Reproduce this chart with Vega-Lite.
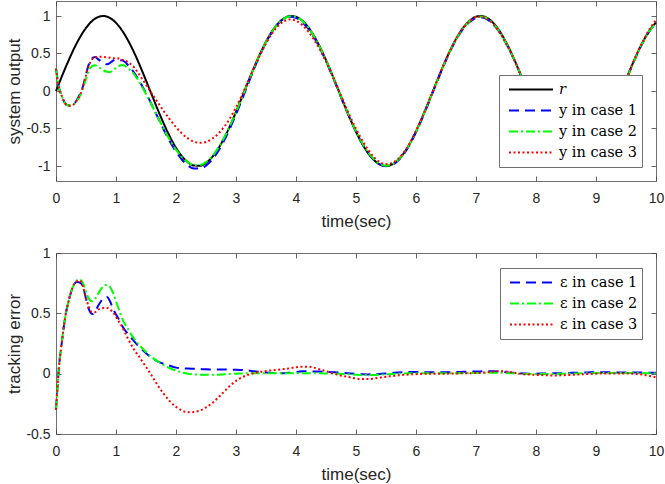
{
  "$schema": "https://vega.github.io/schema/vega-lite/v6.json",
  "background": "white",
  "padding": {"left": 5, "top": 0, "right": 0, "bottom": 0},
  "config": {
    "view": {"stroke": "#707070", "strokeWidth": 1},
    "axis": {
      "grid": false, "domain": false,
      "labelFont": "Liberation Sans", "labelFontSize": 14, "labelColor": "#262626",
      "titleFont": "Liberation Sans", "titleFontSize": 17, "titleFontWeight": "normal", "titleColor": "#262626",
      "tickColor": "#404040", "tickSize": -5, "tickWidth": 0.8,
      "labelFlush": false, "labelOverlap": false, "labelBound": false
    },
    "legend": {
      "orient": "none", "fillColor": "white", "strokeColor": "#707070", "padding": 4,
      "clipHeight": 21, "rowPadding": 0, "symbolType": "stroke", "symbolSize": 1936,
      "symbolStrokeWidth": 2, "labelFont": "DejaVu Serif", "labelFontSize": 14.5,
      "labelColor": "#000000", "labelOffset": 5, "symbolOffset": 5, "title": null
    }
  },
  "data": {
    "values": [
      {"t": 0, "r": 0, "y1": 0.3, "y2": 0.3, "y3": 0.3, "e1": -0.3, "e2": -0.3, "e3": -0.3},
      {"t": 0.05, "r": 0.1, "y1": 0.04, "y2": 0.04, "y3": 0.04, "e1": 0.06, "e2": 0.06, "e3": 0.06},
      {"t": 0.1, "r": 0.199, "y1": -0.071, "y2": -0.071, "y3": -0.071, "e1": 0.27, "e2": 0.27, "e3": 0.27},
      {"t": 0.15, "r": 0.296, "y1": -0.164, "y2": -0.164, "y3": -0.164, "e1": 0.46, "e2": 0.46, "e3": 0.46},
      {"t": 0.2, "r": 0.389, "y1": -0.191, "y2": -0.191, "y3": -0.191, "e1": 0.58, "e2": 0.58, "e3": 0.58},
      {"t": 0.25, "r": 0.479, "y1": -0.196, "y2": -0.196, "y3": -0.196, "e1": 0.675, "e2": 0.675, "e3": 0.675},
      {"t": 0.3, "r": 0.565, "y1": -0.175, "y2": -0.175, "y3": -0.175, "e1": 0.74, "e2": 0.74, "e3": 0.74},
      {"t": 0.35, "r": 0.644, "y1": -0.116, "y2": -0.131, "y3": -0.121, "e1": 0.76, "e2": 0.775, "e3": 0.765},
      {"t": 0.4, "r": 0.717, "y1": -0.038, "y2": -0.063, "y3": -0.053, "e1": 0.755, "e2": 0.78, "e3": 0.77},
      {"t": 0.45, "r": 0.783, "y1": 0.063, "y2": 0.033, "y3": 0.063, "e1": 0.72, "e2": 0.75, "e3": 0.72},
      {"t": 0.5, "r": 0.841, "y1": 0.221, "y2": 0.161, "y3": 0.211, "e1": 0.62, "e2": 0.68, "e3": 0.63},
      {"t": 0.55, "r": 0.891, "y1": 0.361, "y2": 0.271, "y3": 0.341, "e1": 0.53, "e2": 0.62, "e3": 0.55},
      {"t": 0.6, "r": 0.932, "y1": 0.437, "y2": 0.332, "y3": 0.422, "e1": 0.495, "e2": 0.6, "e3": 0.51},
      {"t": 0.65, "r": 0.964, "y1": 0.454, "y2": 0.344, "y3": 0.454, "e1": 0.51, "e2": 0.62, "e3": 0.51},
      {"t": 0.7, "r": 0.985, "y1": 0.425, "y2": 0.325, "y3": 0.455, "e1": 0.56, "e2": 0.66, "e3": 0.53},
      {"t": 0.75, "r": 0.997, "y1": 0.397, "y2": 0.297, "y3": 0.457, "e1": 0.6, "e2": 0.7, "e3": 0.54},
      {"t": 0.8, "r": 1.0, "y1": 0.37, "y2": 0.27, "y3": 0.455, "e1": 0.63, "e2": 0.73, "e3": 0.545},
      {"t": 0.85, "r": 0.992, "y1": 0.357, "y2": 0.257, "y3": 0.447, "e1": 0.635, "e2": 0.735, "e3": 0.545},
      {"t": 0.9, "r": 0.974, "y1": 0.374, "y2": 0.254, "y3": 0.444, "e1": 0.6, "e2": 0.72, "e3": 0.53},
      {"t": 0.95, "r": 0.946, "y1": 0.406, "y2": 0.276, "y3": 0.436, "e1": 0.54, "e2": 0.67, "e3": 0.51},
      {"t": 1.0, "r": 0.909, "y1": 0.419, "y2": 0.309, "y3": 0.439, "e1": 0.49, "e2": 0.6, "e3": 0.47},
      {"t": 1.05, "r": 0.863, "y1": 0.413, "y2": 0.333, "y3": 0.433, "e1": 0.45, "e2": 0.53, "e3": 0.43},
      {"t": 1.1, "r": 0.808, "y1": 0.408, "y2": 0.348, "y3": 0.418, "e1": 0.4, "e2": 0.46, "e3": 0.39},
      {"t": 1.15, "r": 0.746, "y1": 0.386, "y2": 0.336, "y3": 0.406, "e1": 0.36, "e2": 0.41, "e3": 0.34},
      {"t": 1.2, "r": 0.675, "y1": 0.345, "y2": 0.305, "y3": 0.385, "e1": 0.33, "e2": 0.37, "e3": 0.29},
      {"t": 1.3, "r": 0.516, "y1": 0.246, "y2": 0.226, "y3": 0.316, "e1": 0.27, "e2": 0.29, "e3": 0.2},
      {"t": 1.4, "r": 0.335, "y1": 0.12, "y2": 0.105, "y3": 0.205, "e1": 0.215, "e2": 0.23, "e3": 0.13},
      {"t": 1.5, "r": 0.141, "y1": -0.029, "y2": -0.039, "y3": 0.086, "e1": 0.17, "e2": 0.18, "e3": 0.055},
      {"t": 1.6, "r": -0.058, "y1": -0.188, "y2": -0.193, "y3": -0.038, "e1": 0.13, "e2": 0.135, "e3": -0.02},
      {"t": 1.7, "r": -0.256, "y1": -0.356, "y2": -0.356, "y3": -0.156, "e1": 0.1, "e2": 0.1, "e3": -0.1},
      {"t": 1.8, "r": -0.443, "y1": -0.523, "y2": -0.513, "y3": -0.273, "e1": 0.08, "e2": 0.07, "e3": -0.17},
      {"t": 1.9, "r": -0.612, "y1": -0.677, "y2": -0.657, "y3": -0.382, "e1": 0.065, "e2": 0.045, "e3": -0.23},
      {"t": 2.0, "r": -0.757, "y1": -0.807, "y2": -0.782, "y3": -0.482, "e1": 0.05, "e2": 0.025, "e3": -0.275},
      {"t": 2.1, "r": -0.872, "y1": -0.917, "y2": -0.882, "y3": -0.567, "e1": 0.045, "e2": 0.01, "e3": -0.305},
      {"t": 2.2, "r": -0.952, "y1": -0.994, "y2": -0.952, "y3": -0.632, "e1": 0.042, "e2": 0.0, "e3": -0.32},
      {"t": 2.3, "r": -0.994, "y1": -1.034, "y2": -0.988, "y3": -0.676, "e1": 0.04, "e2": -0.006, "e3": -0.318},
      {"t": 2.4, "r": -0.996, "y1": -1.034, "y2": -0.987, "y3": -0.691, "e1": 0.038, "e2": -0.009, "e3": -0.305},
      {"t": 2.5, "r": -0.959, "y1": -0.995, "y2": -0.949, "y3": -0.679, "e1": 0.036, "e2": -0.01, "e3": -0.28},
      {"t": 2.6, "r": -0.883, "y1": -0.918, "y2": -0.873, "y3": -0.638, "e1": 0.035, "e2": -0.01, "e3": -0.245},
      {"t": 2.7, "r": -0.773, "y1": -0.807, "y2": -0.765, "y3": -0.573, "e1": 0.034, "e2": -0.008, "e3": -0.2},
      {"t": 2.8, "r": -0.631, "y1": -0.665, "y2": -0.626, "y3": -0.481, "e1": 0.034, "e2": -0.005, "e3": -0.15},
      {"t": 2.9, "r": -0.465, "y1": -0.498, "y2": -0.463, "y3": -0.365, "e1": 0.033, "e2": -0.002, "e3": -0.1},
      {"t": 3.0, "r": -0.279, "y1": -0.312, "y2": -0.279, "y3": -0.219, "e1": 0.033, "e2": 0.0, "e3": -0.06},
      {"t": 3.1, "r": -0.083, "y1": -0.113, "y2": -0.085, "y3": -0.053, "e1": 0.03, "e2": 0.002, "e3": -0.03},
      {"t": 3.2, "r": 0.117, "y1": 0.091, "y2": 0.114, "y3": 0.127, "e1": 0.026, "e2": 0.003, "e3": -0.01},
      {"t": 3.3, "r": 0.312, "y1": 0.292, "y2": 0.309, "y3": 0.307, "e1": 0.02, "e2": 0.003, "e3": 0.005},
      {"t": 3.4, "r": 0.494, "y1": 0.479, "y2": 0.491, "y3": 0.479, "e1": 0.015, "e2": 0.003, "e3": 0.015},
      {"t": 3.5, "r": 0.657, "y1": 0.647, "y2": 0.654, "y3": 0.635, "e1": 0.01, "e2": 0.003, "e3": 0.022},
      {"t": 3.6, "r": 0.794, "y1": 0.788, "y2": 0.791, "y3": 0.766, "e1": 0.006, "e2": 0.003, "e3": 0.028},
      {"t": 3.7, "r": 0.899, "y1": 0.895, "y2": 0.896, "y3": 0.866, "e1": 0.004, "e2": 0.003, "e3": 0.033},
      {"t": 3.8, "r": 0.968, "y1": 0.964, "y2": 0.965, "y3": 0.93, "e1": 0.004, "e2": 0.003, "e3": 0.038},
      {"t": 3.9, "r": 0.999, "y1": 0.991, "y2": 0.996, "y3": 0.954, "e1": 0.008, "e2": 0.003, "e3": 0.045},
      {"t": 4.0, "r": 0.989, "y1": 0.975, "y2": 0.986, "y3": 0.936, "e1": 0.014, "e2": 0.003, "e3": 0.053},
      {"t": 4.1, "r": 0.941, "y1": 0.921, "y2": 0.938, "y3": 0.883, "e1": 0.02, "e2": 0.003, "e3": 0.058},
      {"t": 4.2, "r": 0.855, "y1": 0.835, "y2": 0.852, "y3": 0.797, "e1": 0.02, "e2": 0.003, "e3": 0.058},
      {"t": 4.3, "r": 0.734, "y1": 0.716, "y2": 0.731, "y3": 0.684, "e1": 0.018, "e2": 0.003, "e3": 0.05},
      {"t": 4.4, "r": 0.585, "y1": 0.568, "y2": 0.582, "y3": 0.55, "e1": 0.017, "e2": 0.003, "e3": 0.035},
      {"t": 4.5, "r": 0.412, "y1": 0.397, "y2": 0.41, "y3": 0.392, "e1": 0.015, "e2": 0.002, "e3": 0.02},
      {"t": 4.6, "r": 0.223, "y1": 0.211, "y2": 0.222, "y3": 0.218, "e1": 0.012, "e2": 0.001, "e3": 0.005},
      {"t": 4.7, "r": 0.025, "y1": 0.015, "y2": 0.025, "y3": 0.035, "e1": 0.01, "e2": 0.0, "e3": -0.01},
      {"t": 4.8, "r": -0.175, "y1": -0.181, "y2": -0.173, "y3": -0.155, "e1": 0.006, "e2": -0.002, "e3": -0.02},
      {"t": 4.9, "r": -0.367, "y1": -0.369, "y2": -0.362, "y3": -0.337, "e1": 0.002, "e2": -0.005, "e3": -0.03},
      {"t": 5.0, "r": -0.544, "y1": -0.542, "y2": -0.536, "y3": -0.504, "e1": -0.002, "e2": -0.008, "e3": -0.04},
      {"t": 5.1, "r": -0.699, "y1": -0.694, "y2": -0.688, "y3": -0.654, "e1": -0.005, "e2": -0.011, "e3": -0.045},
      {"t": 5.2, "r": -0.827, "y1": -0.821, "y2": -0.815, "y3": -0.782, "e1": -0.006, "e2": -0.012, "e3": -0.045},
      {"t": 5.3, "r": -0.922, "y1": -0.917, "y2": -0.911, "y3": -0.882, "e1": -0.005, "e2": -0.011, "e3": -0.04},
      {"t": 5.4, "r": -0.981, "y1": -0.979, "y2": -0.973, "y3": -0.948, "e1": -0.002, "e2": -0.008, "e3": -0.033},
      {"t": 5.5, "r": -1.0, "y1": -1.002, "y2": -0.995, "y3": -0.975, "e1": 0.002, "e2": -0.005, "e3": -0.025},
      {"t": 5.6, "r": -0.98, "y1": -0.986, "y2": -0.978, "y3": -0.96, "e1": 0.006, "e2": -0.002, "e3": -0.02},
      {"t": 5.7, "r": -0.921, "y1": -0.931, "y2": -0.921, "y3": -0.907, "e1": 0.01, "e2": 0.0, "e3": -0.014},
      {"t": 5.8, "r": -0.825, "y1": -0.837, "y2": -0.827, "y3": -0.815, "e1": 0.012, "e2": 0.002, "e3": -0.01},
      {"t": 5.9, "r": -0.697, "y1": -0.71, "y2": -0.7, "y3": -0.691, "e1": 0.013, "e2": 0.003, "e3": -0.006},
      {"t": 6.0, "r": -0.537, "y1": -0.55, "y2": -0.54, "y3": -0.533, "e1": 0.013, "e2": 0.003, "e3": -0.004},
      {"t": 6.1, "r": -0.358, "y1": -0.371, "y2": -0.361, "y3": -0.356, "e1": 0.013, "e2": 0.003, "e3": -0.002},
      {"t": 6.2, "r": -0.166, "y1": -0.178, "y2": -0.169, "y3": -0.165, "e1": 0.012, "e2": 0.003, "e3": -0.001},
      {"t": 6.3, "r": 0.033, "y1": 0.021, "y2": 0.03, "y3": 0.033, "e1": 0.012, "e2": 0.003, "e3": 0.0},
      {"t": 6.4, "r": 0.231, "y1": 0.219, "y2": 0.228, "y3": 0.231, "e1": 0.012, "e2": 0.003, "e3": 0.0},
      {"t": 6.5, "r": 0.42, "y1": 0.408, "y2": 0.416, "y3": 0.42, "e1": 0.012, "e2": 0.004, "e3": 0.0},
      {"t": 6.6, "r": 0.592, "y1": 0.579, "y2": 0.588, "y3": 0.591, "e1": 0.013, "e2": 0.004, "e3": 0.001},
      {"t": 6.7, "r": 0.74, "y1": 0.726, "y2": 0.736, "y3": 0.738, "e1": 0.014, "e2": 0.004, "e3": 0.002},
      {"t": 6.8, "r": 0.857, "y1": 0.842, "y2": 0.852, "y3": 0.854, "e1": 0.015, "e2": 0.005, "e3": 0.003},
      {"t": 6.9, "r": 0.939, "y1": 0.923, "y2": 0.934, "y3": 0.935, "e1": 0.016, "e2": 0.005, "e3": 0.004},
      {"t": 7.0, "r": 0.991, "y1": 0.973, "y2": 0.986, "y3": 0.986, "e1": 0.018, "e2": 0.005, "e3": 0.005},
      {"t": 7.1, "r": 0.999, "y1": 0.98, "y2": 0.993, "y3": 0.991, "e1": 0.019, "e2": 0.006, "e3": 0.008},
      {"t": 7.2, "r": 0.968, "y1": 0.948, "y2": 0.961, "y3": 0.956, "e1": 0.02, "e2": 0.007, "e3": 0.012},
      {"t": 7.3, "r": 0.897, "y1": 0.877, "y2": 0.889, "y3": 0.88, "e1": 0.02, "e2": 0.008, "e3": 0.017},
      {"t": 7.4, "r": 0.791, "y1": 0.775, "y2": 0.783, "y3": 0.771, "e1": 0.016, "e2": 0.008, "e3": 0.02},
      {"t": 7.5, "r": 0.65, "y1": 0.638, "y2": 0.644, "y3": 0.632, "e1": 0.012, "e2": 0.006, "e3": 0.018},
      {"t": 7.6, "r": 0.487, "y1": 0.479, "y2": 0.484, "y3": 0.477, "e1": 0.008, "e2": 0.003, "e3": 0.01},
      {"t": 7.7, "r": 0.304, "y1": 0.299, "y2": 0.304, "y3": 0.302, "e1": 0.005, "e2": 0.0, "e3": 0.002},
      {"t": 7.8, "r": 0.108, "y1": 0.106, "y2": 0.11, "y3": 0.113, "e1": 0.002, "e2": -0.002, "e3": -0.005},
      {"t": 7.9, "r": -0.092, "y1": -0.092, "y2": -0.089, "y3": -0.084, "e1": 0.0, "e2": -0.003, "e3": -0.008},
      {"t": 8.0, "r": -0.288, "y1": -0.288, "y2": -0.285, "y3": -0.278, "e1": 0.0, "e2": -0.003, "e3": -0.01},
      {"t": 8.1, "r": -0.472, "y1": -0.473, "y2": -0.469, "y3": -0.46, "e1": 0.001, "e2": -0.003, "e3": -0.012},
      {"t": 8.2, "r": -0.638, "y1": -0.64, "y2": -0.636, "y3": -0.624, "e1": 0.002, "e2": -0.002, "e3": -0.014},
      {"t": 8.3, "r": -0.778, "y1": -0.781, "y2": -0.776, "y3": -0.763, "e1": 0.003, "e2": -0.002, "e3": -0.015},
      {"t": 8.4, "r": -0.888, "y1": -0.892, "y2": -0.887, "y3": -0.874, "e1": 0.004, "e2": -0.001, "e3": -0.014},
      {"t": 8.5, "r": -0.961, "y1": -0.966, "y2": -0.961, "y3": -0.949, "e1": 0.005, "e2": 0.0, "e3": -0.012},
      {"t": 8.6, "r": -0.997, "y1": -1.004, "y2": -0.998, "y3": -0.987, "e1": 0.007, "e2": 0.001, "e3": -0.01},
      {"t": 8.7, "r": -0.993, "y1": -1.001, "y2": -0.995, "y3": -0.986, "e1": 0.008, "e2": 0.002, "e3": -0.007},
      {"t": 8.8, "r": -0.95, "y1": -0.96, "y2": -0.953, "y3": -0.946, "e1": 0.01, "e2": 0.003, "e3": -0.004},
      {"t": 8.9, "r": -0.869, "y1": -0.88, "y2": -0.873, "y3": -0.867, "e1": 0.011, "e2": 0.004, "e3": -0.002},
      {"t": 9.0, "r": -0.751, "y1": -0.763, "y2": -0.756, "y3": -0.751, "e1": 0.012, "e2": 0.005, "e3": 0.0},
      {"t": 9.1, "r": -0.604, "y1": -0.616, "y2": -0.609, "y3": -0.605, "e1": 0.012, "e2": 0.005, "e3": 0.001},
      {"t": 9.2, "r": -0.432, "y1": -0.444, "y2": -0.437, "y3": -0.434, "e1": 0.012, "e2": 0.005, "e3": 0.002},
      {"t": 9.3, "r": -0.245, "y1": -0.256, "y2": -0.25, "y3": -0.247, "e1": 0.011, "e2": 0.005, "e3": 0.002},
      {"t": 9.4, "r": -0.048, "y1": -0.058, "y2": -0.053, "y3": -0.05, "e1": 0.01, "e2": 0.005, "e3": 0.002},
      {"t": 9.5, "r": 0.15, "y1": 0.14, "y2": 0.145, "y3": 0.148, "e1": 0.01, "e2": 0.005, "e3": 0.002},
      {"t": 9.6, "r": 0.344, "y1": 0.334, "y2": 0.339, "y3": 0.344, "e1": 0.01, "e2": 0.005, "e3": 0.0},
      {"t": 9.7, "r": 0.523, "y1": 0.514, "y2": 0.518, "y3": 0.527, "e1": 0.009, "e2": 0.005, "e3": -0.004},
      {"t": 9.8, "r": 0.683, "y1": 0.674, "y2": 0.679, "y3": 0.693, "e1": 0.009, "e2": 0.004, "e3": -0.01},
      {"t": 9.9, "r": 0.815, "y1": 0.807, "y2": 0.811, "y3": 0.835, "e1": 0.008, "e2": 0.004, "e3": -0.02},
      {"t": 10.0, "r": 0.913, "y1": 0.905, "y2": 0.909, "y3": 0.943, "e1": 0.008, "e2": 0.004, "e3": -0.03}
    ]
  },
  "spacing": 15,
  "vconcat": [
    {
      "width": 600,
      "height": 180,
      "transform": [{"fold": ["r", "y1", "y2", "y3"], "as": ["s", "v"]}],
      "layer": [
        {
          "mark": {"type": "line", "strokeWidth": 2, "interpolate": "monotone"},
          "encoding": {
            "x": {"field": "t", "type": "quantitative", "scale": {"domain": [0, 10], "nice": false},
              "axis": {"orient": "bottom", "values": [0, 1, 2, 3, 4, 5, 6, 7, 8, 9, 10], "title": "time(sec)", "labelPadding": 15, "titlePadding": 8}},
            "y": {"field": "v", "type": "quantitative", "scale": {"domain": [-1.2, 1.2], "nice": false},
              "axis": {"orient": "left", "values": [-1, -0.5, 0, 0.5, 1], "title": "system output", "labelPadding": 11, "titlePadding": 2, "labelExpr": "'' + datum.value"}},
            "color": {"field": "s", "type": "nominal",
              "scale": {"domain": ["r", "y1", "y2", "y3"], "range": ["#000000", "#0000ff", "#00ff00", "#ff0000"]},
              "legend": {"legendX": 443, "legendY": 74, "labelExpr": "{'r': 'r', 'y1': 'y in case 1', 'y2': 'y in case 2', 'y3': 'y in case 3'}[datum.label]",
                "encode": {"labels": {"update": {"fontStyle": {"signal": "datum.label == 'r' ? 'italic' : 'normal'"}}}}}},
            "strokeDash": {"field": "s", "type": "nominal",
              "scale": {"domain": ["r", "y1", "y2", "y3"], "range": [[1, 0], [10, 6], [9, 3, 2, 3], [2, 2.5]]},
              "legend": {"legendX": 443, "legendY": 74, "labelExpr": "{'r': 'r', 'y1': 'y in case 1', 'y2': 'y in case 2', 'y3': 'y in case 3'}[datum.label]",
                "encode": {"labels": {"update": {"fontStyle": {"signal": "datum.label == 'r' ? 'italic' : 'normal'"}}}}}}
          }
        },
        {
          "mark": {"type": "point", "opacity": 0},
          "encoding": {
            "x": {"field": "t", "type": "quantitative", "axis": {"orient": "top", "values": [0, 1, 2, 3, 4, 5, 6, 7, 8, 9, 10], "labels": false, "title": null}},
            "y": {"field": "v", "type": "quantitative", "axis": {"orient": "right", "values": [-1, -0.5, 0, 0.5, 1], "labels": false, "title": null}}
          }
        }
      ],
      "resolve": {"axis": {"x": "independent", "y": "independent"}}
    },
    {
      "width": 600,
      "height": 181,
      "transform": [{"fold": ["e1", "e2", "e3"], "as": ["s", "v"]}],
      "layer": [
        {
          "mark": {"type": "line", "strokeWidth": 2, "interpolate": "monotone"},
          "encoding": {
            "x": {"field": "t", "type": "quantitative", "scale": {"domain": [0, 10], "nice": false},
              "axis": {"orient": "bottom", "values": [0, 1, 2, 3, 4, 5, 6, 7, 8, 9, 10], "title": "time(sec)", "labelPadding": 15, "titlePadding": 8}},
            "y": {"field": "v", "type": "quantitative", "scale": {"domain": [-0.5, 1], "nice": false},
              "axis": {"orient": "left", "values": [-0.5, 0, 0.5, 1], "title": "tracking error", "labelPadding": 11, "titlePadding": 2, "labelExpr": "'' + datum.value"}},
            "color": {"field": "s", "type": "nominal",
              "scale": {"domain": ["e1", "e2", "e3"], "range": ["#0000ff", "#00ff00", "#ff0000"]},
              "legend": {"legendX": 444, "legendY": 15, "labelExpr": "{'e1': 'ε in case 1', 'e2': 'ε in case 2', 'e3': 'ε in case 3'}[datum.label]"}},
            "strokeDash": {"field": "s", "type": "nominal",
              "scale": {"domain": ["e1", "e2", "e3"], "range": [[10, 6], [9, 3, 2, 3], [2, 2.5]]},
              "legend": {"legendX": 444, "legendY": 15, "labelExpr": "{'e1': 'ε in case 1', 'e2': 'ε in case 2', 'e3': 'ε in case 3'}[datum.label]"}}
          }
        },
        {
          "mark": {"type": "point", "opacity": 0},
          "encoding": {
            "x": {"field": "t", "type": "quantitative", "axis": {"orient": "top", "values": [0, 1, 2, 3, 4, 5, 6, 7, 8, 9, 10], "labels": false, "title": null}},
            "y": {"field": "v", "type": "quantitative", "axis": {"orient": "right", "values": [-0.5, 0, 0.5, 1], "labels": false, "title": null}}
          }
        }
      ],
      "resolve": {"axis": {"x": "independent", "y": "independent"}}
    }
  ],
  "resolve": {
    "scale": {"color": "independent", "strokeDash": "independent"},
    "legend": {"color": "independent", "strokeDash": "independent"}
  }
}
